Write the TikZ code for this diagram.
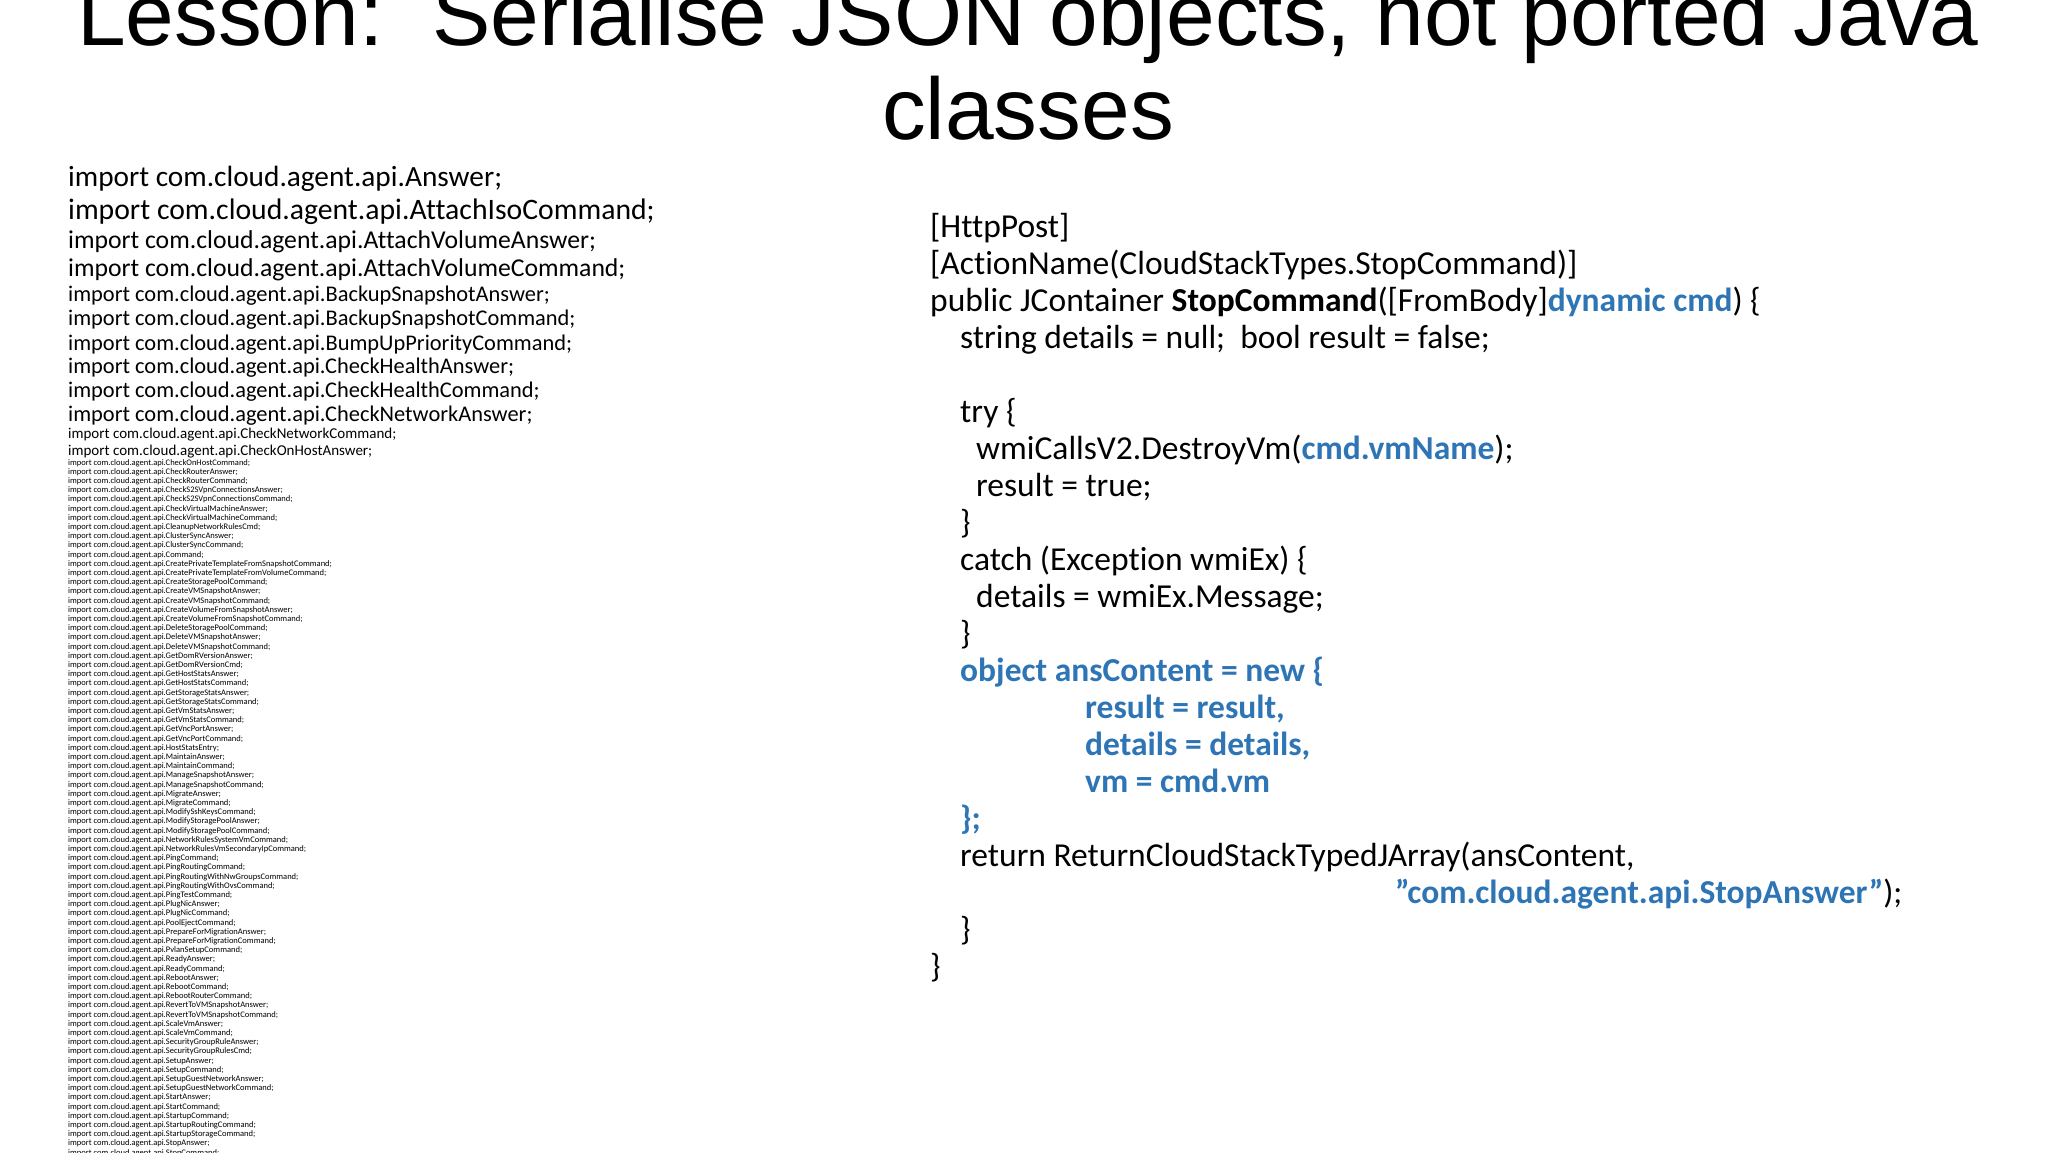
\documentclass[tikz,border=0pt]{standalone}
\usepackage{fontspec}
\setmainfont{Carlito}[Ligatures={NoCommon}]
\newfontfamily\titlefont{Liberation Sans}
\definecolor{codeblue}{HTML}{2E75B6}
\begin{document}
\begin{tikzpicture}[x=1pt,y=-1pt,
  imp/.style={anchor=base west,inner sep=0pt},
  code/.style={anchor=base west,inner sep=0pt,font=\fontsize{33.5}{40}\selectfont},
  bcode/.style={code,text=codeblue,font=\bfseries\fontsize{33.5}{40}\selectfont},
  ttl/.style={anchor=base,inner sep=0pt,font=\titlefont\fontsize{87.5}{100}\selectfont}]
\useasboundingbox (0,0) rectangle (2048,1152);
\clip (0,0) rectangle (2048,1152);
\fill[white] (0,0) rectangle (2048,1152);
\node[ttl] (t1) at (1028,45) {Lesson:\ \ Serialise JSON objects, not ported Java};
\node[ttl] (t2) at (1028,139) {classes};
% big imports
\foreach \y/\s/\t [count=\i] in {
186/29.3/Answer, 219/29.7/AttachIsoCommand, 248/25.7/AttachVolumeAnswer, 276/25.7/AttachVolumeCommand,
301/22.4/BackupSnapshotAnswer, 325/22.4/BackupSnapshotCommand, 350/22.4/BumpUpPriorityCommand,
373/22.4/CheckHealthAnswer, 397/22.4/CheckHealthCommand, 421/22.4/CheckNetworkAnswer,
438/15/CheckNetworkCommand, 455/15/CheckOnHostAnswer}
  \node[imp,font=\fontsize{\s}{\s}\selectfont] (b\i) at (68,\y) {import com.cloud.agent.api.\t;};
\foreach \t [count=\i from 0] in {CheckOnHostCommand,CheckRouterAnswer,CheckRouterCommand,CheckS2SVpnConnectionsAnswer,CheckS2SVpnConnectionsCommand,CheckVirtualMachineAnswer,CheckVirtualMachineCommand,CleanupNetworkRulesCmd,ClusterSyncAnswer,ClusterSyncCommand,Command,CreatePrivateTemplateFromSnapshotCommand,CreatePrivateTemplateFromVolumeCommand,CreateStoragePoolCommand,CreateVMSnapshotAnswer,CreateVMSnapshotCommand,CreateVolumeFromSnapshotAnswer,CreateVolumeFromSnapshotCommand,DeleteStoragePoolCommand,DeleteVMSnapshotAnswer,DeleteVMSnapshotCommand,GetDomRVersionAnswer,GetDomRVersionCmd,GetHostStatsAnswer,GetHostStatsCommand,GetStorageStatsAnswer,GetStorageStatsCommand,GetVmStatsAnswer,GetVmStatsCommand,GetVncPortAnswer,GetVncPortCommand,HostStatsEntry,MaintainAnswer,MaintainCommand,ManageSnapshotAnswer,ManageSnapshotCommand,MigrateAnswer,MigrateCommand,ModifySshKeysCommand,ModifyStoragePoolAnswer,ModifyStoragePoolCommand,NetworkRulesSystemVmCommand,NetworkRulesVmSecondaryIpCommand,PingCommand,PingRoutingCommand,PingRoutingWithNwGroupsCommand,PingRoutingWithOvsCommand,PingTestCommand,PlugNicAnswer,PlugNicCommand,PoolEjectCommand,PrepareForMigrationAnswer,PrepareForMigrationCommand,PvlanSetupCommand,ReadyAnswer,ReadyCommand,RebootAnswer,RebootCommand,RebootRouterCommand,RevertToVMSnapshotAnswer,RevertToVMSnapshotCommand,ScaleVmAnswer,ScaleVmCommand,SecurityGroupRuleAnswer,SecurityGroupRulesCmd,SetupAnswer,SetupCommand,SetupGuestNetworkAnswer,SetupGuestNetworkCommand,StartAnswer,StartCommand,StartupCommand,StartupRoutingCommand,StartupStorageCommand,StopAnswer,StopCommand}
  \node[imp,font=\fontsize{8.5}{9}\selectfont] (s\i) at (68,{465+9.2*\i}) {import com.cloud.agent.api.\t;};
% code
\node[code] (c0) at (930,237) {[HttpPost]};
\node[code] (c1) at (930,274) {[ActionName(CloudStackTypes.StopCommand)]};
\node[code] (c2) at (930,311) {public JContainer \textbf{StopCommand}([FromBody]\textcolor{codeblue}{\textbf{dynamic cmd}}) \{};
\node[code] (c3) at (960,348) {string details = null;\ \ bool result = false;};
\node[code] (c5) at (960,422) {try \{};
\node[code] (c6) at (976,459) {wmiCallsV2.DestroyVm(\textcolor{codeblue}{\textbf{cmd.vmName}});};
\node[code] (c7) at (976,496) {result = true;};
\node[code] (c8) at (960,533) {\}};
\node[code] (c9) at (960,570) {catch (Exception wmiEx) \{};
\node[code] (c10) at (976,607) {details = wmiEx.Message;};
\node[code] (c11) at (960,644) {\}};
\node[bcode] (c12) at (960,681) {object ansContent = new \{};
\node[bcode] (c13) at (1085,718) {result = result,};
\node[bcode] (c14) at (1085,755) {details = details,};
\node[bcode] (c15) at (1085,792) {vm = cmd.vm};
\node[bcode] (c16) at (960,829) {\};};
\node[code] (c17) at (960,866) {return ReturnCloudStackTypedJArray(ansContent,};
\node[code] (c18) at (1395,903) {\textcolor{codeblue}{\textbf{\symbol{34}com.cloud.agent.api.StopAnswer\symbol{34}}});};
\node[code] (c19) at (960,940) {\}};
\node[code] (c20) at (930,977) {\}};
\end{tikzpicture}
\end{document}
